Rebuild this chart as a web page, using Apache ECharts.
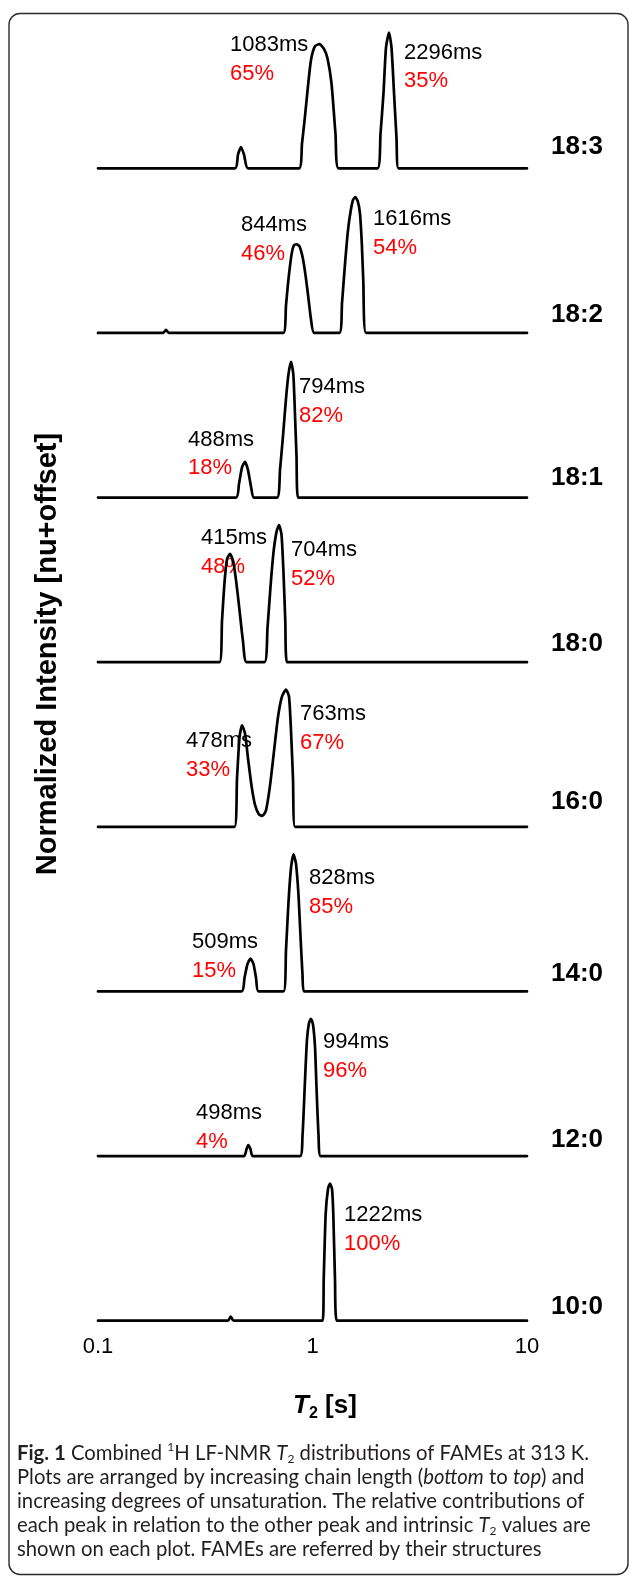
<!DOCTYPE html>
<html>
<head>
<meta charset="utf-8">
<script src="https://cdn.jsdelivr.net/npm/echarts@6/dist/echarts.min.js"></script>
<style>
html,body{margin:0;padding:0;background:#fff;}
#chart{width:629px;height:1577px;}
</style>
</head>
<body>
<div id="chart"></div>
<script>
// ---- DATA (T2 in seconds, normalized intensity) ----
const fameNames = ['10:0', '12:0', '14:0', '16:0', '18:0', '18:1', '18:2', '18:3'];
const xTickLabels = ['0.1', '1', '10'];
const OFFSET_STEP = 1.2;

const fame_10_0 = [[0.1,0],[0.4037,0],[0.4156,0.03],[0.4283,0],[1.116,0],[1.128,0.30],[1.152,0.78],[1.181,0.96],[1.207,1.0],[1.233,0.96],[1.250,0.78],[1.273,0.30],[1.297,0],[10,0]];
const fame_12_0 = [[0.1,0],[0.4794,0],[0.4924,0.05],[0.5021,0.08],[0.514,0.05],[0.5263,0],[0.8746,0],[0.8983,0.15],[0.9226,0.55],[0.9427,0.85],[0.9631,0.97],[0.984,1.0],[1.005,0.96],[1.027,0.80],[1.044,0.50],[1.067,0.15],[1.092,0],[10,0]];
const fame_14_0 = [[0.1,0],[0.4667,0],[0.482,0.10],[0.4976,0.20],[0.514,0.24],[0.5308,0.20],[0.5453,0.10],[0.5601,0],[0.7325,0],[0.7523,0.30],[0.7728,0.65],[0.7939,0.90],[0.8155,1.0],[0.8378,0.93],[0.8606,0.70],[0.8793,0.40],[0.8983,0.12],[0.9128,0],[10,0]];
const fame_16_0 = [[0.1,0],[0.4329,0],[0.4446,0.35],[0.4567,0.65],[0.4692,0.74],[0.4846,0.68],[0.5004,0.50],[0.5196,0.30],[0.5394,0.16],[0.5631,0.09],[0.5846,0.08],[0.607,0.12],[0.6337,0.30],[0.6614,0.55],[0.6905,0.80],[0.7208,0.95],[0.7523,1.0],[0.777,0.95],[0.7939,0.70],[0.8111,0.35],[0.8288,0],[10,0]];
const fame_18_0 = [[0.1,0],[0.3685,0],[0.3785,0.30],[0.3888,0.58],[0.3994,0.75],[0.4125,0.79],[0.426,0.74],[0.4399,0.60],[0.4567,0.38],[0.4743,0.15],[0.4924,0],[0.5973,0],[0.6169,0.25],[0.6371,0.55],[0.6579,0.80],[0.6795,0.95],[0.698,1.0],[0.717,0.93],[0.7325,0.65],[0.7467,0.30],[0.7605,0],[10,0]];
const fame_18_1 = [[0.1,0],[0.4399,0],[0.4543,0.10],[0.4692,0.22],[0.4846,0.26],[0.5004,0.20],[0.5168,0.08],[0.5337,0],[0.6831,0],[0.7055,0.20],[0.7286,0.45],[0.7523,0.72],[0.7728,0.90],[0.7939,0.99],[0.8139,0.90],[0.8288,0.60],[0.8423,0.30],[0.856,0],[10,0]];
const fame_18_2 = [[0.1,0],[0.2009,0],[0.2075,0.022],[0.2143,0],[0.7309,0],[0.7523,0.20],[0.7711,0.38],[0.800,0.58],[0.820,0.64],[0.844,0.646],[0.870,0.63],[0.900,0.55],[0.928,0.42],[0.956,0.26],[0.984,0.10],[1.019,0],[1.334,0],[1.373,0.22],[1.417,0.50],[1.464,0.75],[1.507,0.89],[1.545,0.97],[1.583,0.99],[1.625,0.96],[1.665,0.87],[1.698,0.65],[1.725,0.38],[1.776,0],[10,0]];
const fame_18_3 = [[0.1,0],[0.4352,0],[0.4494,0.10],[0.4642,0.155],[0.4794,0.10],[0.5004,0],[0.8651,0],[0.8933,0.18],[0.9226,0.38],[0.9528,0.60],[0.984,0.79],[1.027,0.89],[1.078,0.905],[1.131,0.87],[1.175,0.80],[1.226,0.62],[1.280,0.25],[1.322,0],[2.009,0],[2.075,0.25],[2.143,0.55],[2.201,0.88],[2.273,0.99],[2.335,0.88],[2.399,0.55],[2.464,0.22],[2.518,0],[10,0]];

const peakT2Labels = [['1222ms'], ['498ms','994ms'], ['509ms','828ms'], ['478ms','763ms'], ['415ms','704ms'], ['488ms','794ms'], ['844ms','1616ms'], ['1083ms','2296ms']];
const peakPctLabels = [['100%'], ['4%','96%'], ['15%','85%'], ['33%','67%'], ['48%','52%'], ['18%','82%'], ['46%','54%'], ['65%','35%']];

const captionLines = [
  '{b|Fig. 1} Combined {sup|1}H LF-NMR {i|T}{sub|2} distributions of FAMEs at 313 K.',
  'Plots are arranged by increasing chain length ({i|bottom} to {i|top}) and',
  'increasing degrees of unsaturation. The relative contributions of',
  'each peak in relation to the other peak and intrinsic {i|T}{sub|2} values are',
  'shown on each plot. FAMEs are referred by their structures'
];

// ---- LAYOUT (pixel positions of text only) ----
const peakLabelPos = [
  [[344,1215]],
  [[196,1113],[323,1042]],
  [[192,942],[309,878]],
  [[186,741],[300,714]],
  [[201,538],[291,550]],
  [[188,439.5],[299,387]],
  [[241,225],[373,219]],
  [[230,45],[404,52.5]]
];
const PCT_DY = 28.5;
const nameLabelY = [1307, 1139.5, 973.5, 801.5, 644, 478, 315, 147];
const NAME_X = 551;
const captionY0 = 1453, captionDY = 24.2, captionX = 17;

const traces = [fame_10_0, fame_12_0, fame_14_0, fame_16_0, fame_18_0, fame_18_1, fame_18_2, fame_18_3];
const SANS = '"Liberation Sans", Arial, Helvetica, sans-serif';

const chart = echarts.init(document.getElementById('chart'), null, {renderer: 'canvas'});

const series = traces.map((tr, i) => ({
  type: 'line',
  name: fameNames[i],
  data: tr.map(([t, v]) => [t, v + i * OFFSET_STEP]),
  showSymbol: false,
  symbol: 'none',
  smooth: 0.2,
  clip: false,
  silent: true,
  animation: false,
  lineStyle: {color: '#000', width: 2.7, join: 'round', cap: 'round'}
}));

const graphic = [];
graphic.push({
  type: 'rect', silent: true,
  shape: {x: 9, y: 13.5, width: 619, height: 1561, r: 11},
  style: {fill: 'none', stroke: '#2b2b2b', lineWidth: 1.4}
});
peakLabelPos.forEach((arr, i) => {
  arr.forEach((p, j) => {
    graphic.push({type: 'text', silent: true, x: p[0], y: p[1],
      style: {text: peakT2Labels[i][j], fill: '#000', font: '22px ' + SANS,
        align: 'left', textAlign: 'left', verticalAlign: 'middle', textVerticalAlign: 'middle'}});
    graphic.push({type: 'text', silent: true, x: p[0], y: p[1] + PCT_DY,
      style: {text: peakPctLabels[i][j], fill: '#ff0000', font: '22px ' + SANS,
        align: 'left', textAlign: 'left', verticalAlign: 'middle', textVerticalAlign: 'middle'}});
  });
});
fameNames.forEach((n, i) => {
  graphic.push({type: 'text', silent: true, x: NAME_X, y: nameLabelY[i],
    style: {text: n, fill: '#000', font: 'bold 26px ' + SANS,
      align: 'left', textAlign: 'left', verticalAlign: 'middle', textVerticalAlign: 'middle'}});
});
// axis titles
graphic.push({type: 'text', silent: true, x: 325, y: 1406,
  style: {text: '{t|T}{s|2}{n| [s]}', align: 'center', textAlign: 'center', verticalAlign: 'middle', textVerticalAlign: 'middle',
    fill: '#000', lineHeight: 32,
    rich: {
      t: {fontFamily: SANS, fontSize: 26, fontWeight: 'bold', fontStyle: 'italic', fill: '#000', lineHeight: 32},
      s: {fontFamily: SANS, fontSize: 16, fontWeight: 'bold', fill: '#000', verticalAlign: 'bottom', lineHeight: 18},
      n: {fontFamily: SANS, fontSize: 26, fontWeight: 'bold', fill: '#000', lineHeight: 32}
    }}});
graphic.push({type: 'text', silent: true, x: 47.5, y: 654, rotation: Math.PI / 2,
  style: {text: 'Normalized Intensity [nu+offset]', fill: '#000', font: 'bold 29px ' + SANS,
    align: 'center', textAlign: 'center', verticalAlign: 'middle', textVerticalAlign: 'middle'}});
// caption
const CAP_FONT = 'Lato, "Open Sans", sans-serif';
const CAP_SIZE = 20.3;
const capRich = {
  b: {fontFamily: CAP_FONT, fontSize: CAP_SIZE, fontWeight: 'bold', fill: '#231f20', lineHeight: 24},
  i: {fontFamily: CAP_FONT, fontSize: CAP_SIZE, fontStyle: 'italic', fill: '#231f20', lineHeight: 24},
  sup: {fontFamily: CAP_FONT, fontSize: 12, fill: '#231f20', verticalAlign: 'top', lineHeight: 13},
  sub: {fontFamily: CAP_FONT, fontSize: 12, fill: '#231f20', verticalAlign: 'bottom', lineHeight: 13}
};
captionLines.forEach((ln, k) => {
  graphic.push({type: 'text', silent: true, x: captionX, y: captionY0 + k * captionDY,
    style: {text: ln, fill: '#231f20', fontFamily: CAP_FONT, fontSize: CAP_SIZE, lineHeight: 24,
      align: 'left', textAlign: 'left', verticalAlign: 'middle', textVerticalAlign: 'middle', rich: capRich}});
});

chart.setOption({
  animation: false,
  backgroundColor: '#fff',
  grid: {left: 98, right: 102, top: 17.4, bottom: 256.3},
  xAxis: {
    type: 'log', logBase: 10, min: 0.1, max: 10,
    axisLine: {show: false}, axisTick: {show: false}, splitLine: {show: false},
    minorTick: {show: false}, minorSplitLine: {show: false},
    axisLabel: {
      fontSize: 22, color: '#000', fontFamily: SANS, margin: 15,
      formatter: (v) => {
        const k = Math.round(Math.log10(v)) + 1;
        return xTickLabels[k] !== undefined ? xTickLabels[k] : '';
      }
    }
  },
  yAxis: {type: 'value', min: 0, max: 9.5, show: false},
  series: series,
  graphic: graphic
});
</script>
</body>
</html>
